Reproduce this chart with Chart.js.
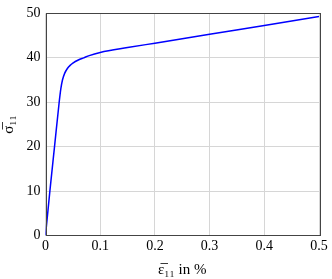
<!DOCTYPE html>
<html>
<head>
<meta charset="utf-8">
<script src="https://cdn.jsdelivr.net/npm/chart.js@4.4.1/dist/chart.umd.min.js"></script>
<style>
  html, body { margin: 0; padding: 0; background: #fff; }
  #wrap { width: 332px; height: 279px; }
</style>
</head>
<body>
<div id="wrap"><canvas id="c" width="332" height="279"></canvas></div>
<script>
// strain in %, stress
const strain = [0, 0.008, 0.0165, 0.025, 0.028, 0.031, 0.035, 0.040, 0.045, 0.050, 0.060, 0.070, 0.080, 0.100, 0.150, 0.200, 0.300, 0.400, 0.500];
const stress = [0, 10, 20, 30, 33, 35, 36.5, 37.6, 38.3, 38.8, 39.5, 40.0, 40.5, 41.2, 42.3, 43.3, 45.3, 47.3, 49.3];
const xTicks = [0, 0.1, 0.2, 0.3, 0.4, 0.5];
const yTicks = [0, 10, 20, 30, 40, 50];

const font = 'Liberation Serif, DejaVu Serif, serif';
const gridColor = '#d6d6d6';

// frame round the plot area
const framePlugin = {
    id: 'frame',
    afterDraw(chart) {
        const a = chart.chartArea;
        const ctx = chart.ctx;
        ctx.save();
        ctx.strokeStyle = '#444';
        ctx.lineWidth = 1;
        ctx.strokeRect(Math.round(a.left) + 0.5, Math.round(a.top) + 0.5,
            Math.round(a.right - a.left), Math.round(a.bottom - a.top));
        ctx.restore();
    }
};

new Chart(document.getElementById('c').getContext('2d'), {
    type: 'scatter',
    data: {
        datasets: [{
            data: strain.map((x, i) => ({ x: x, y: stress[i] })),
            showLine: true,
            borderColor: '#0000ff',
            borderWidth: 1.5,
            pointRadius: 0,
            cubicInterpolationMode: 'monotone',
            fill: false
        }]
    },
    options: {
        responsive: false,
        animation: false,
        layout: { padding: { left: 0, right: 13, top: 9, bottom: 0 } },
        plugins: { legend: { display: false }, tooltip: { enabled: false } },
        scales: {
            x: {
                type: 'linear',
                min: 0, max: 0.5,
                afterBuildTicks: s => { s.ticks = xTicks.map(v => ({ value: v })); },
                afterFit: s => { s.height = 43.5; },
                ticks: {
                    color: '#000',
                    font: { family: font, size: 14 },
                    padding: 2,
                    maxRotation: 0,
                    callback: v => String(v)
                },
                grid: { color: gridColor, drawTicks: false },
                border: { display: false },
                title: {
                    display: true,
                    text: 'ε̅₁₁ in %',
                    color: '#000',
                    font: { family: font, size: 15 },
                    padding: { top: 4, bottom: 0 }
                }
            },
            y: {
                type: 'linear',
                min: 0, max: 50,
                afterBuildTicks: s => { s.ticks = yTicks.map(v => ({ value: v })); },
                afterFit: s => { s.width = 45.5; },
                ticks: {
                    color: '#000',
                    font: { family: font, size: 14 },
                    padding: 5
                },
                grid: { color: gridColor, drawTicks: false },
                border: { display: false },
                title: {
                    display: true,
                    text: 'σ̅₁₁',
                    color: '#000',
                    font: { family: font, size: 15 },
                    padding: { top: 0, bottom: 0 }
                }
            }
        }
    },
    plugins: [framePlugin]
});
</script>
</body>
</html>
